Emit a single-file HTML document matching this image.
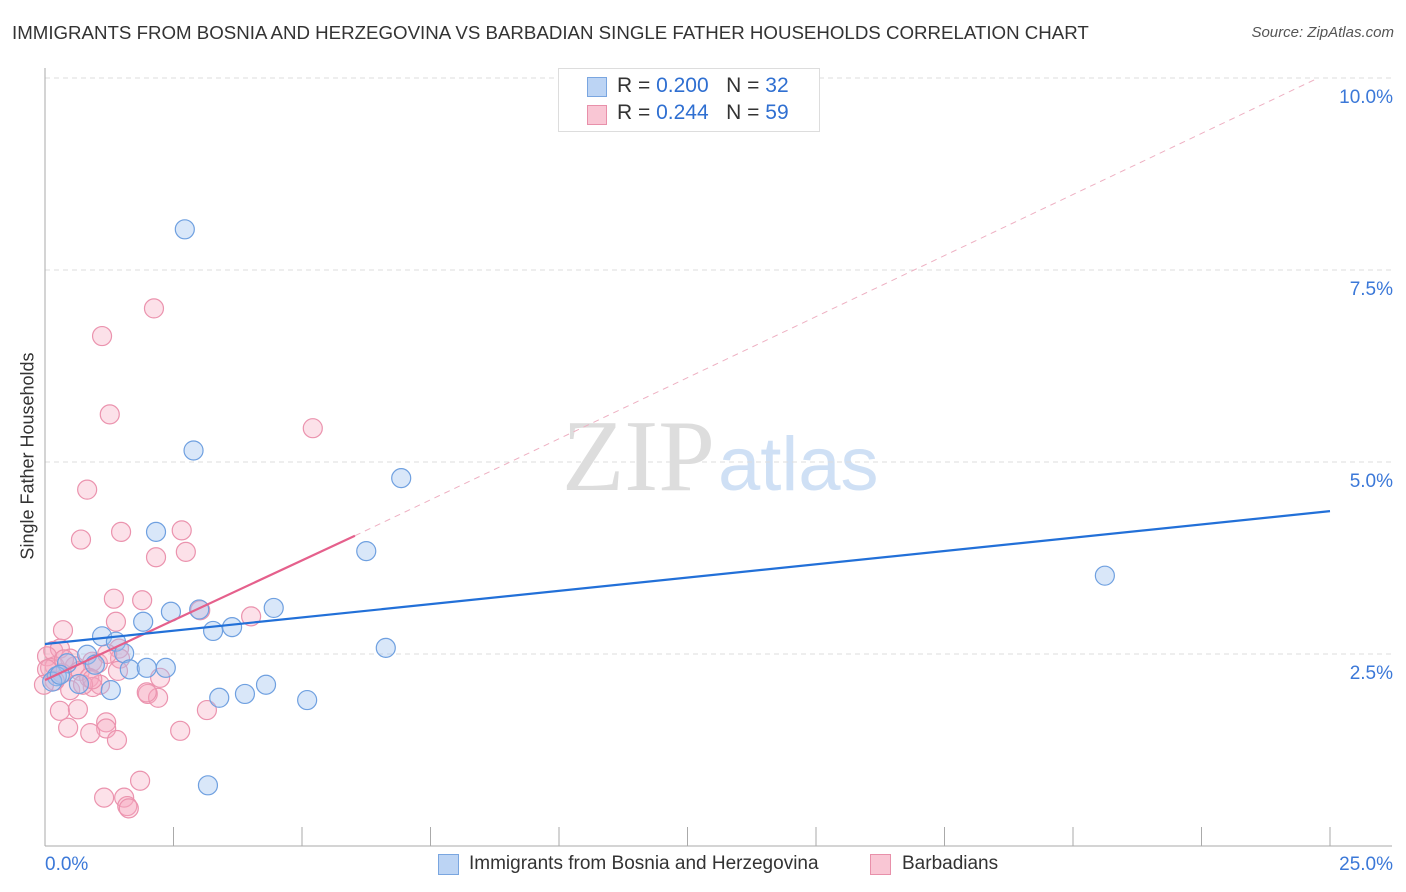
<!DOCTYPE html>
<html><head><meta charset="utf-8"><style>
body{margin:0;background:#fff;font-family:"Liberation Sans",sans-serif}
#wrap{position:relative;width:1406px;height:892px;overflow:hidden}
.t{position:absolute;white-space:nowrap}
</style></head><body>
<div id="wrap">
<div class="t" style="left:12px;top:22px;font-size:18.7px;color:#333">IMMIGRANTS FROM BOSNIA AND HERZEGOVINA VS BARBADIAN SINGLE FATHER HOUSEHOLDS CORRELATION CHART</div>
<div class="t" style="right:12px;top:24px;font-size:15px;color:#555;font-style:italic">Source: ZipAtlas.com</div>
<svg id="svg" width="1406" height="892" style="position:absolute;left:0;top:0">
<text x="715" y="490" font-size="102" font-family="Liberation Serif" fill="#ddd" text-anchor="end">ZIP</text>
<text x="718" y="490" font-size="76" font-family="Liberation Sans" fill="#cfe0f5">atlas</text>
</svg>
<div style="position:absolute;left:558px;top:68px;width:260px;height:62px;border:1px solid #ddd;background:#fff">
<div style="position:absolute;left:28px;top:8px;width:18px;height:18px;background:#bcd4f4;border:1px solid #7aa6e0"></div>
<div class="t" style="left:58px;top:5px;font-size:21px;color:#333">R = <span style="color:#2f6fd1">0.200</span> &nbsp;&nbsp;N = <span style="color:#2f6fd1">32</span></div>
<div style="position:absolute;left:28px;top:36px;width:18px;height:18px;background:#f9c6d4;border:1px solid #e890aa"></div>
<div class="t" style="left:58px;top:32px;font-size:21px;color:#333">R = <span style="color:#2f6fd1">0.244</span> &nbsp;&nbsp;N = <span style="color:#2f6fd1">59</span></div>
</div>
<div class="t" style="left:28px;top:456px;font-size:18px;color:#333;transform:translate(-50%,-50%) rotate(-90deg)">Single Father Households</div>
<div>
<div style="position:absolute;left:438px;top:854px;width:19px;height:19px;background:#bcd4f4;border:1px solid #7aa6e0"></div>
<div class="t" style="left:469px;top:853px;font-size:19px;color:#333">Immigrants from Bosnia and Herzegovina</div>
<div style="position:absolute;left:870px;top:854px;width:19px;height:19px;background:#f9c6d4;border:1px solid #e890aa"></div>
<div class="t" style="left:902px;top:853px;font-size:19px;color:#333">Barbadians</div>
</div>
</div>
<script>
const yTicks=[2.5,5.0,7.5,10.0];
const yTickLabels=["2.5%","5.0%","7.5%","10.0%"];
const xEndLabels=["0.0%","25.0%"];
const bosniaX=[2.72,2.89,6.93,2.16,6.25,20.62,4.45,2.45,3.00,1.91,3.64,3.27,1.11,1.38,6.63,1.54,0.82,1.65,1.98,2.35,0.43,0.97,0.23,0.14,0.66,1.28,4.30,3.89,3.39,5.10,3.17,0.29];
const bosniaY=[8.03,5.15,4.79,4.09,3.84,3.52,3.10,3.05,3.08,2.92,2.85,2.80,2.73,2.66,2.58,2.51,2.49,2.30,2.32,2.32,2.38,2.36,2.21,2.14,2.11,2.03,2.10,1.98,1.93,1.90,0.79,2.23];
const barbX=[2.12,1.11,1.26,5.21,0.82,1.48,2.66,0.70,2.74,2.16,1.34,1.89,4.01,1.38,0.35,3.02,0.16,0.29,0.04,0.49,0.92,1.03,0.19,0.58,0.68,0.33,0.86,1.07,0.49,0.93,2.24,1.44,2.00,2.20,1.98,3.15,0.29,0.64,1.19,0.45,1.19,2.63,0.88,1.40,1.85,1.15,1.54,1.60,1.63,0.10,0.04,0.19,-0.02,0.74,1.46,1.21,0.92,1.42,0.37];
const barbY=[7.00,6.64,5.62,5.44,4.64,4.09,4.11,3.99,3.83,3.76,3.22,3.20,2.99,2.92,2.81,3.07,2.54,2.57,2.47,2.44,2.40,2.38,2.34,2.34,2.28,2.25,2.19,2.10,2.03,2.07,2.19,2.57,1.98,1.93,2.00,1.77,1.76,1.78,1.61,1.54,1.53,1.50,1.47,1.38,0.85,0.63,0.63,0.52,0.49,2.32,2.30,2.15,2.10,2.10,2.44,2.50,2.17,2.28,2.43];
const bosniaLine=[[0,2.63],[25,4.36]];
const barbLine=[[0,2.16],[6.03,4.04]];
const barbDash=[[6.03,4.04],[24.77,10]];
const X0=45,X1=1330,Y0=846;
function sx(v){return X0+(X1-X0)*v/25;}
function sy(v){return Y0-76.8*v;}
const svg=document.getElementById('svg');
const NS='http://www.w3.org/2000/svg';
function mk(t,a){const e=document.createElementNS(NS,t);for(const k in a)e.setAttribute(k,a[k]);svg.appendChild(e);return e;}
yTicks.forEach((v,i)=>{
 const g=mk('line',{x1:X0,x2:1392,y1:sy(v),y2:sy(v),stroke:'#ddd','stroke-dasharray':'5,4'});
 
 
 const t=mk('text',{x:1393,y:sy(v)+25,'font-size':19,fill:'#3b78d8','text-anchor':'end'});
 t.textContent=yTickLabels[i];
 
 
});
const ax=mk('line',{x1:X0,x2:X0,y1:68,y2:Y0,stroke:'#aaa'});


const bx=mk('line',{x1:X0,x2:1392,y1:Y0,y2:Y0,stroke:'#aaa'});


for(let i=0;i<=10;i++){const v=i*2.5;const tk=mk('line',{x1:sx(v),x2:sx(v),y1:Y0,y2:Y0-19,stroke:'#aaa'});
 
 }
[[0,'start',45],[25,'end',1393]].forEach((d,i)=>{const t=mk('text',{x:d[2],y:870,'font-size':19,fill:'#3b78d8','text-anchor':d[1]});t.textContent=xEndLabels[i];
 
 });
barbX.forEach((x,i)=>{const c=mk('circle',{cx:sx(x),cy:sy(barbY[i]),r:9.5,fill:'rgba(246,170,192,0.35)',stroke:'#eb93ae','stroke-width':1.2});
 
 });
bosniaX.forEach((x,i)=>{const c=mk('circle',{cx:sx(x),cy:sy(bosniaY[i]),r:9.5,fill:'rgba(160,196,240,0.4)',stroke:'#6fa0e0','stroke-width':1.2});
 
 });
const l1=mk('line',{x1:sx(barbDash[0][0]),y1:sy(barbDash[0][1]),x2:sx(barbDash[1][0]),y2:sy(barbDash[1][1]),stroke:'#eeb0c2','stroke-dasharray':'6,5','stroke-width':1});


const l2=mk('line',{x1:sx(barbLine[0][0]),y1:sy(barbLine[0][1]),x2:sx(barbLine[1][0]),y2:sy(barbLine[1][1]),stroke:'#e5608c','stroke-width':2.2});


const l3=mk('line',{x1:sx(bosniaLine[0][0]),y1:sy(bosniaLine[0][1]),x2:sx(bosniaLine[1][0]),y2:sy(bosniaLine[1][1]),stroke:'#2270d8','stroke-width':2.2});


</script>
</body></html>
